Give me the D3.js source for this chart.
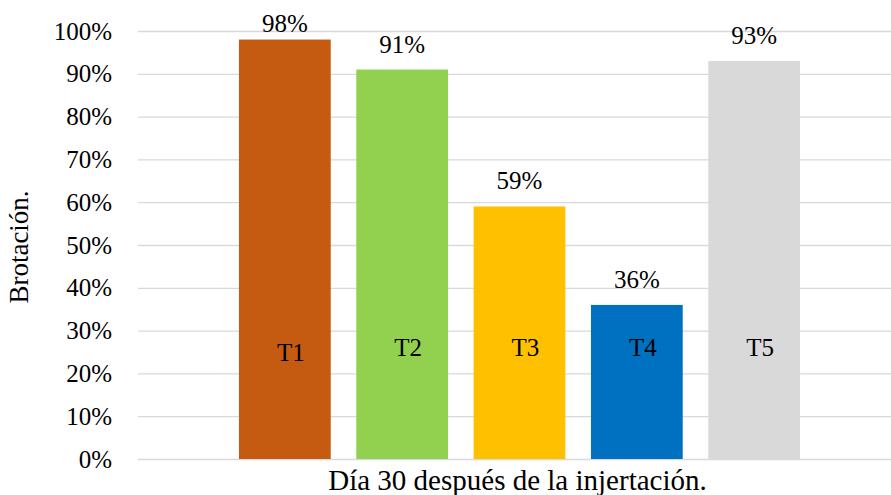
<!doctype html>
<html>

<head>
    <meta charset="utf-8">
    <title>Brotación</title>
    <style>
    body { margin: 0; background: #fff; }
    text { font-family: "Liberation Serif", "Times New Roman", serif; fill: #000; }
    </style>
    <script src="https://cdn.jsdelivr.net/npm/d3@7"></script>
</head>

<body>
    <svg width="891" height="495"></svg>
    <script>
    var category = "Día 30 después de la injertación.";
    var treatments = ["T1", "T2", "T3", "T4", "T5"];
    var values = [0.98, 0.91, 0.59, 0.36, 0.93];
    var colors = ["#C55A11", "#92D050", "#FFC000", "#0070C0", "#D9D9D9"];
    var yTicks = [0, 0.1, 0.2, 0.3, 0.4, 0.5, 0.6, 0.7, 0.8, 0.9, 1];

    (function() {
        var svg = d3.select("svg"),
            plotLeft = 138, plotRight = 901, plotTop = 31, plotBottom = 459,
            fs = 25;

        var y = d3.scaleLinear().domain([0, 1]).range([plotBottom, plotTop]);

        var x0 = d3.scaleBand()
            .domain([category])
            .range([plotLeft, plotRight])
            .paddingInner(0)
            .paddingOuter(0.1503);

        var x1 = d3.scaleBand()
            .domain(treatments)
            .range([0, x0.bandwidth()])
            .paddingInner(0.218)
            .paddingOuter(0.109);

        // gridlines
        svg.append("g")
            .selectAll("line")
            .data(yTicks)
            .enter().append("line")
            .attr("x1", plotLeft)
            .attr("x2", plotRight)
            .attr("y1", function(d) { return y(d) + 0.5; })
            .attr("y2", function(d) { return y(d) + 0.5; })
            .attr("stroke", "#D9D9D9")
            .attr("stroke-width", 1.3);

        // y axis labels
        var yAxis = d3.axisLeft(y)
            .tickValues(yTicks)
            .tickFormat(d3.format(".0%"))
            .tickSize(0)
            .tickPadding(26);

        svg.append("g")
            .attr("transform", "translate(" + plotLeft + ",0)")
            .call(yAxis)
            .call(function(g) { g.select(".domain").remove(); })
            .selectAll("text")
            .attr("font-family", "Liberation Serif")
            .attr("font-size", fs)
            .attr("fill", "#000");

        var grp = svg.append("g")
            .attr("transform", "translate(" + x0(category) + ",0)");

        grp.selectAll("rect")
            .data(treatments)
            .enter().append("rect")
            .attr("x", function(d) { return x1(d); })
            .attr("width", x1.bandwidth())
            .attr("y", function(d, i) { return y(values[i]); })
            .attr("height", function(d, i) { return y(0) - y(values[i]); })
            .attr("fill", function(d, i) { return colors[i]; });

        // value labels
        grp.selectAll("text.val")
            .data(treatments)
            .enter().append("text")
            .attr("class", "val")
            .attr("x", function(d) { return x1(d) + x1.bandwidth() / 2; })
            .attr("y", function(d, i) { return Math.max(y(values[i]) - 17, 32); })
            .attr("text-anchor", "middle")
            .attr("font-size", fs)
            .text(function(d, i) { return d3.format(".0%")(values[i]); });

        // treatment labels inside bars
        grp.selectAll("text.name")
            .data(treatments)
            .enter().append("text")
            .attr("class", "name")
            .attr("x", function(d) { return x1(d) + x1.bandwidth() / 2 + 6; })
            .attr("y", function(d, i) { return i === 0 ? y(0.23) : y(0.24); })
            .attr("text-anchor", "middle")
            .attr("font-size", fs)
            .text(function(d) { return d; });

        // category label
        svg.append("text")
            .attr("x", x0(category) + x0.bandwidth() / 2 - 2)
            .attr("y", 490)
            .attr("text-anchor", "middle")
            .attr("font-size", 29)
            .text(category);

        // y title
        svg.append("text")
            .attr("transform", "translate(28,247) rotate(-90)")
            .attr("text-anchor", "middle")
            .attr("font-size", 27)
            .text("Brotación.");
    })();
    </script>
</body>

</html>
